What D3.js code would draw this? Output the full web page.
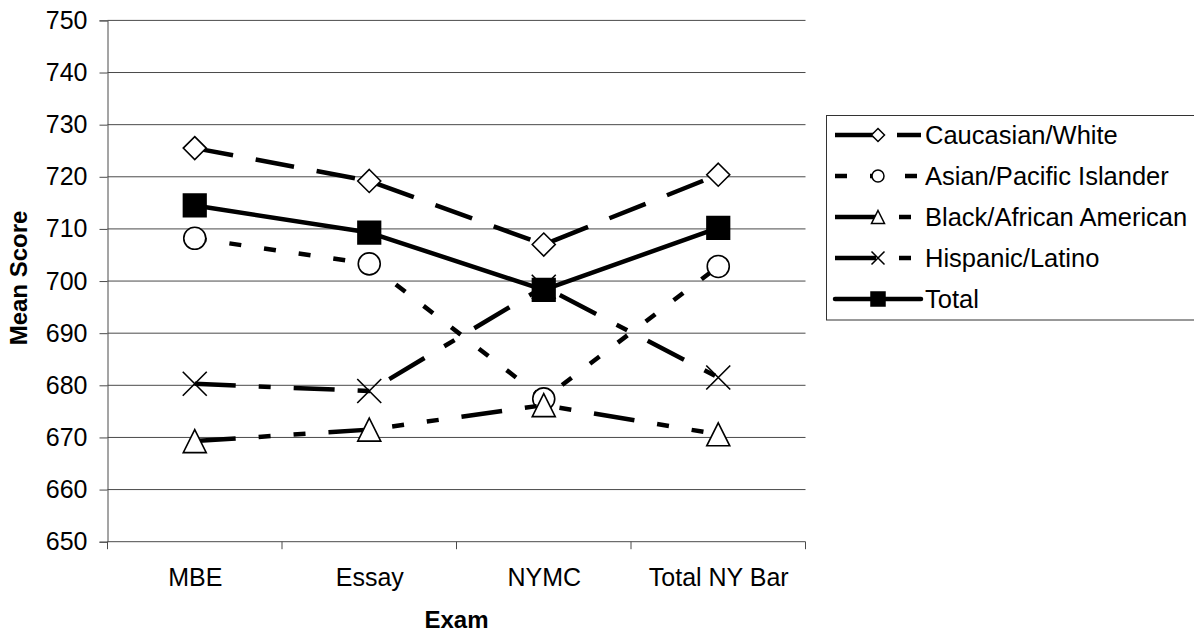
<!DOCTYPE html>
<html>
<head>
<meta charset="utf-8">
<script src="https://cdn.jsdelivr.net/npm/d3@7"></script>
<style>
  body { margin: 0; background: #fff; }
  text { font-family: "Liberation Sans", Arial, sans-serif; fill: #000; }
</style>
</head>
<body>
<div id="chart"></div>
<script>
// Define data
const exams = ["MBE", "Essay", "NYMC", "Total NY Bar"];
const yTicks = [650, 660, 670, 680, 690, 700, 710, 720, 730, 740, 750];

const caucasian = [725.5, 719.2, 707.0, 720.4];
const asian = [708.2, 703.3, 677.4, 702.8];
const black = [669.3, 671.5, 676.2, 670.6];
const hispanic = [680.3, 678.9, 698.9, 681.5];
const total = [714.5, 709.3, 698.3, 710.2];

const seriesNames = [
  "Caucasian/White",
  "Asian/Pacific Islander",
  "Black/African American",
  "Hispanic/Latino",
  "Total",
];
const seriesValues = [caucasian, asian, black, hispanic, total];

// Line and marker styles, same order as the series
const styles = [
  { dash: "39,23", marker: "diamond" },
  { dash: "12,23", marker: "circle" },
  { dash: "41,23,12,23,12,23", marker: "triangle" },
  { dash: "41,23,12,23", marker: "cross" },
  { dash: null, marker: "square" },
];

const width = 1194,
  height = 634;
const plot = { left: 107.5, right: 805.5, top: 20.4, bottom: 541.7 };

const svg = d3
  .select("#chart")
  .append("svg")
  .attr("width", width)
  .attr("height", height);

const x = d3.scaleBand().domain(exams).range([plot.left, plot.right]);
const y = d3.scaleLinear().domain([650, 750]).range([plot.bottom, plot.top]);
const cx = (d) => x(d) + x.bandwidth() / 2;

// Marker shapes, s = half size
function markerPath(type, s) {
  switch (type) {
    case "diamond":
      return `M0,${-s}L${s},0L0,${s}L${-s},0Z`;
    case "circle":
      return `M${s},0A${s},${s} 0 1,1 ${-s},0A${s},${s} 0 1,1 ${s},0Z`;
    case "triangle":
      return `M0,${-s}L${s},${s}L${-s},${s}Z`;
    case "cross":
      return `M${-s},${-s}L${s},${s}M${s},${-s}L${-s},${s}`;
    default:
      return `M${-s},${-s}H${s}V${s}H${-s}Z`;
  }
}
const markerSize = { diamond: 11.5, circle: 11, triangle: 11.5, cross: 12, square: 11.3 };

// Gridlines
svg
  .append("g")
  .selectAll("line")
  .data(yTicks.filter((d) => d !== 650))
  .join("line")
  .attr("x1", plot.left)
  .attr("x2", plot.right)
  .attr("y1", (d) => y(d))
  .attr("y2", (d) => y(d))
  .attr("stroke", "#4a4a4a")
  .attr("stroke-width", 1);

// Y axis
const yAxis = svg
  .append("g")
  .attr("transform", `translate(${plot.left},0)`)
  .call(d3.axisLeft(y).tickValues(yTicks).tickSize(8).tickPadding(12));
yAxis.select(".domain").attr("stroke", "#4a4a4a");
yAxis.selectAll(".tick line").attr("stroke", "#4a4a4a");
yAxis
  .selectAll("text")
  .attr("font-size", 25)
  .attr("font-family", '"Liberation Sans", Arial, sans-serif');

// X axis
const xAxis = svg
  .append("g")
  .attr("transform", `translate(0,${plot.bottom})`)
  .call(
    d3
      .axisBottom(d3.scalePoint().domain(exams).range([cx(exams[0]), cx(exams[3])]))
      .tickSize(0)
      .tickPadding(26.5),
  );
xAxis.select(".domain").remove();
xAxis
  .selectAll("text")
  .attr("font-size", 25)
  .attr("font-family", '"Liberation Sans", Arial, sans-serif');

svg
  .append("line")
  .attr("x1", plot.left)
  .attr("x2", plot.right)
  .attr("y1", plot.bottom)
  .attr("y2", plot.bottom)
  .attr("stroke", "#4a4a4a");

// Category boundary ticks
svg
  .append("g")
  .selectAll("line")
  .data(exams.map((d) => x(d)).concat([plot.right]))
  .join("line")
  .attr("x1", (d) => d)
  .attr("x2", (d) => d)
  .attr("y1", plot.bottom)
  .attr("y2", plot.bottom + 7.5)
  .attr("stroke", "#4a4a4a");

// Axis titles
svg
  .append("text")
  .attr("transform", "translate(27,278) rotate(-90)")
  .attr("text-anchor", "middle")
  .attr("font-size", 24)
  .attr("font-weight", "bold")
  .text("Mean Score");

svg
  .append("text")
  .attr("x", (plot.left + plot.right) / 2)
  .attr("y", 628)
  .attr("text-anchor", "middle")
  .attr("font-size", 24)
  .attr("font-weight", "bold")
  .text("Exam");

// Series lines and markers
const line = d3
  .line()
  .x((d, i) => cx(exams[i]))
  .y((d) => y(d));

seriesValues.forEach((values, k) => {
  const st = styles[k];
  const g = svg.append("g");
  g.append("path")
    .datum(values)
    .attr("d", line)
    .attr("fill", "none")
    .attr("stroke", "#000")
    .attr("stroke-width", 4.5)
    .attr("stroke-dasharray", st.dash)
    .attr("stroke-linecap", st.dash ? "butt" : "round")
    .attr("stroke-linejoin", "round");

  g.selectAll(".mk")
    .data(values)
    .join("path")
    .attr("class", "mk")
    .attr("transform", (d, i) => `translate(${cx(exams[i])},${y(d)})`)
    .attr("d", markerPath(st.marker, markerSize[st.marker]))
    .attr("fill", st.marker === "square" ? "#000" : st.marker === "cross" ? "none" : "#fff")
    .attr("stroke", "#000")
    .attr("stroke-width", 1.6);
});

// Legend
const legend = svg.append("g");
legend
  .append("rect")
  .attr("x", 826.5)
  .attr("y", 115.5)
  .attr("width", 400)
  .attr("height", 204.5)
  .attr("fill", "#fff")
  .attr("stroke", "#333");

const legendRows = [135, 176, 217, 258, 299];
const legendMarker = { diamond: 6.5, circle: 6, triangle: 6.5, cross: 6.5, square: 7 };

seriesNames.forEach((name, k) => {
  const st = styles[k];
  const ry = legendRows[k];
  legend
    .append("line")
    .attr("x1", 835)
    .attr("x2", 921)
    .attr("y1", ry)
    .attr("y2", ry)
    .attr("stroke", "#000")
    .attr("stroke-width", 4.5)
    .attr("stroke-dasharray", st.dash)
    .attr("stroke-linecap", st.dash ? "butt" : "round");
  legend
    .append("path")
    .attr("transform", `translate(878,${ry})`)
    .attr("d", markerPath(st.marker, legendMarker[st.marker]))
    .attr("fill", st.marker === "square" ? "#000" : st.marker === "cross" ? "none" : "#fff")
    .attr("stroke", "#000")
    .attr("stroke-width", 1.5);
  legend
    .append("text")
    .attr("x", 925)
    .attr("y", ry + 9)
    .attr("font-size", 25.5)
    .text(name);
});
</script>
</body>
</html>
